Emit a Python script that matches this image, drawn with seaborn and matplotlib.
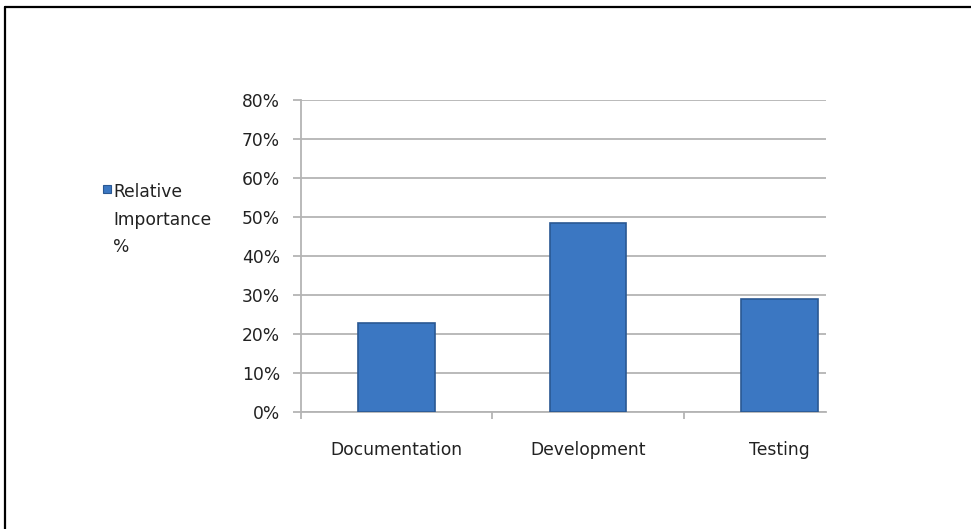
import matplotlib
matplotlib.use("Agg")
import matplotlib.pyplot as plt
import seaborn as sns
import pandas as pd
from matplotlib.patches import Rectangle
from matplotlib.lines import Line2D
from matplotlib.ticker import FixedLocator, PercentFormatter

categories = ["Documentation", "Development", "Testing"]
importance = [22.9, 48.5, 29.1]
series_name = "Relative\nImportance\n%"
y_ticks = [0, 10, 20, 30, 40, 50, 60, 70, 80]

df = pd.DataFrame({"category": categories, "value": importance})

sns.set_theme(style="white")
plt.rcParams["font.family"] = ["DejaVu Sans"]

bar_color = "#3b77c2"
edge_color = "#2a5892"
grid_color = "#b4b4b4"
text_color = "#222222"
fs = 12.3

fig = plt.figure(figsize=(9.71, 5.29), dpi=100)
fig.patch.set_facecolor("white")
ax = fig.add_axes([301 / 971, 116.7 / 529, 525 / 971, 312.6 / 529])

sns.barplot(data=df, x="category", y="value", color=bar_color, width=0.40,
            edgecolor=edge_color, linewidth=1.2, saturation=1, ax=ax, zorder=3)

ax.set_ylim(0, 80)
ax.set_xlim(-0.5, 2.242)
ax.yaxis.set_major_locator(FixedLocator(y_ticks))
ax.yaxis.set_major_formatter(PercentFormatter(decimals=0))
ax.grid(axis="y", color=grid_color, linewidth=1.3, zorder=0)
ax.set_axisbelow(True)
ax.set_xlabel("")
ax.set_ylabel("")

for side in ["top", "right"]:
    ax.spines[side].set_visible(False)
for side in ["left", "bottom"]:
    ax.spines[side].set_color(grid_color)
    ax.spines[side].set_linewidth(1.3)

ax.tick_params(axis="y", which="major", direction="out", length=6, width=1.3,
               color=grid_color, left=True, pad=9, labelsize=fs, labelcolor=text_color)
ax.tick_params(axis="x", which="major", length=0, pad=21, labelsize=fs, labelcolor=text_color)
ax.xaxis.set_minor_locator(FixedLocator([-0.5, 0.5, 1.5]))
ax.tick_params(axis="x", which="minor", direction="out", length=5, width=1.3,
               color=grid_color, bottom=True)

# legend square and text placed to the left of the plot
fig.patches.append(Rectangle((103 / 971, 1 - 193 / 529), 8 / 971, 8 / 529,
                             transform=fig.transFigure, facecolor=bar_color,
                             edgecolor=edge_color, linewidth=0.8))
fig.text(113 / 971, 1 - 183 / 529, series_name, ha="left", va="top",
         fontsize=fs, color=text_color, linespacing=1.68)

# outer frame, cropped at right and bottom
fig.add_artist(Line2D([5 / 971, 1], [1 - 7.3 / 529, 1 - 7.3 / 529],
                      transform=fig.transFigure, color="black", linewidth=1.6))
fig.add_artist(Line2D([5 / 971, 5 / 971], [0, 1 - 7.3 / 529],
                      transform=fig.transFigure, color="black", linewidth=1.6))

fig.savefig("out.png", dpi=100, facecolor="white")
